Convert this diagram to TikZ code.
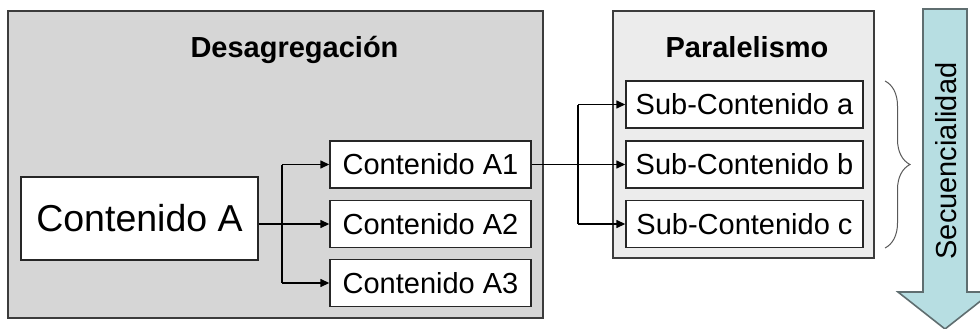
\documentclass[tikz,border=0pt]{standalone}
\usepackage{fontspec}
\setmainfont{Liberation Sans}
\usetikzlibrary{arrows.meta,decorations.pathreplacing}
\definecolor{panelgray}{RGB}{214,214,214}
\definecolor{panellight}{RGB}{236,236,236}
\definecolor{edgegray}{RGB}{60,60,60}
\definecolor{arrowfill}{RGB}{183,222,226}
\definecolor{arrowedge}{RGB}{95,110,112}
\tikzset{
  panel/.style={draw=edgegray, line width=1.5pt},
  itembox/.style={draw=black!85, fill=white, line width=1.4pt, inner sep=0pt,
    font=\fontsize{29}{34}\selectfont},
  title/.style={font=\bfseries\fontsize{29}{34}\selectfont, inner sep=0pt, anchor=base},
  arr/.style={line width=1.4pt, -{Triangle[length=9pt,width=8pt]}},
  link/.style={line width=1.4pt},
}
\begin{document}
\begin{tikzpicture}[x=1pt,y=-1pt]
  \clip (0,0) rectangle (980,329);
  \fill[white] (0,0) rectangle (980,329);

  % panels
  \draw[panel, fill=panelgray] (8,11) rectangle (543,318);
  \draw[panel, fill=panellight] (613,11) rectangle (874,258);
  \node[title] (tdes) at (294.5,58) {Desagregación};
  \node[title] (tpar) at (747,58) {Paralelismo};

  % content boxes
  \node[itembox, minimum width=237pt, minimum height=83pt,
        font=\fontsize{37.5}{42}\selectfont] (A) at (139.5,218.5) {Contenido A};
  \node[itembox, minimum width=201pt, minimum height=47pt] (A1) at (430.5,164.5) {Contenido A1};
  \node[itembox, minimum width=201pt, minimum height=47pt] (A2) at (430.5,224) {Contenido A2};
  \node[itembox, minimum width=201pt, minimum height=47pt] (A3) at (430.5,283) {Contenido A3};

  \node[itembox, minimum width=237pt, minimum height=47pt] (Sa) at (744.5,104.5) {Sub-Contenido a};
  \node[itembox, minimum width=237pt, minimum height=47pt] (Sb) at (744.5,164.5) {Sub-Contenido b};
  \node[itembox, minimum width=237pt, minimum height=47pt] (Sc) at (744.5,224) {Sub-Contenido c};

  % connectors from Contenido A
  \coordinate (ja) at (282,224);
  \draw[arr] (A.east |- A2.west) -- (A2.west);
  \draw[link] (ja) -- (ja |- A1.west);
  \draw[arr] (ja |- A1.west) -- (A1.west);
  \draw[link] (ja) -- (ja |- A3.west);
  \draw[arr] (ja |- A3.west) -- (A3.west);

  % connectors from Contenido A1
  \coordinate (jb) at (578,164.5);
  \draw[arr] (A1.east) -- (Sb.west);
  \draw[link] (jb) -- (jb |- Sa.west);
  \draw[arr] (jb |- Sa.west) -- (Sa.west);
  \draw[link] (jb) -- (jb |- Sc.west);
  \draw[arr] (jb |- Sc.west) -- (Sc.west);

  % brace grouping the sub-contents
  \coordinate (bt) at (885,81);
  \coordinate (bb) at (885,248);
  \draw[gray!70!black, line width=1pt,
        decorate, decoration={brace, amplitude=25pt}] (bt) -- (bb);

  % sequence arrow
  \draw[draw=arrowedge, fill=arrowfill, line width=1.6pt, line join=miter]
    (923,9) -- (967,9) -- (967,292) -- (992,292) -- (945,329)
    -- (898,292) -- (923,292) -- cycle;
  \node[rotate=90, inner sep=0pt, font=\fontsize{29}{34}\selectfont] (seq) at (946,161) {Secuencialidad};
\end{tikzpicture}
\end{document}
